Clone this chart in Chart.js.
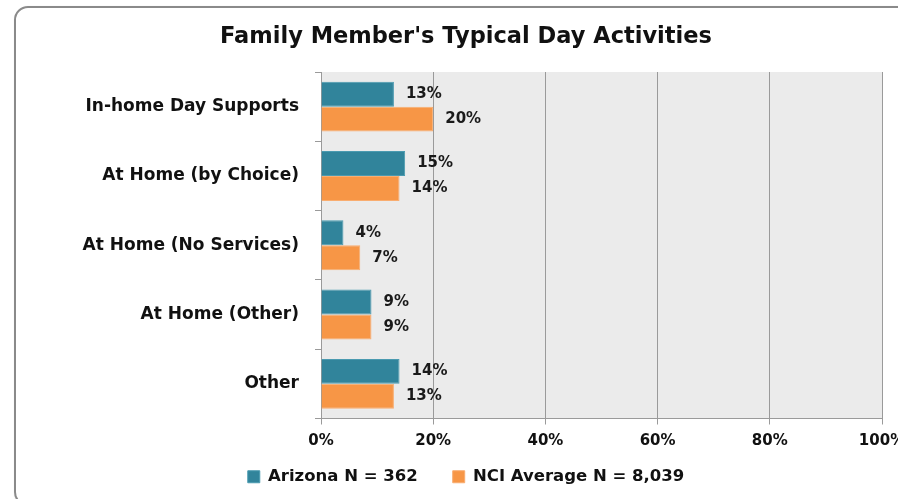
<!DOCTYPE html>
<html><head><meta charset="utf-8">
<script src="https://cdn.jsdelivr.net/npm/chart.js@4.4.0/dist/chart.umd.min.js"></script>
<style>
html,body{margin:0;padding:0;background:#fff;overflow:hidden;}
#wrap{position:relative;width:898px;height:499px;}
#frame{position:absolute;left:14px;top:6px;width:900px;height:500px;border:2px solid #8a8a8a;border-radius:14px;box-shadow:1px 1px 2px rgba(0,0,0,0.25);box-sizing:border-box;}
canvas{position:absolute;left:0;top:0;}
</style></head>
<body><div id="wrap"><div id="frame"></div><canvas id="c" width="898" height="499"></canvas></div>
<script>
const categories = ["In-home Day Supports","At Home (by Choice)","At Home (No Services)","At Home (Other)","Other"];
const arizona = [13,15,4,9,14];
const nciAverage = [20,14,7,9,13];
const seriesNames = ["Arizona N = 362","NCI Average N = 8,039"];
const xTicks = [0,20,40,60,80,100];

const FONT = "'DejaVu Sans', sans-serif";
const LEGEND_GAP = 35;

const bgPlugin = {
  id:'bg',
  beforeDraw(chart){
    const {ctx, chartArea:a} = chart;
    ctx.save();
    ctx.fillStyle = '#ebebeb';
    ctx.fillRect(a.left, a.top, a.right-a.left, a.bottom-a.top);
    ctx.restore();
  }
};
const legendShift = {
  id:'legendShift',
  afterLayout(chart){
    if (chart.legend) { chart.legend.top -= (LEGEND_GAP - 10); }
  }
};
const labelPlugin = {
  id:'vals',
  afterDatasetsDraw(chart){
    const ctx = chart.ctx;
    ctx.save();
    ctx.font = "bold 15px " + FONT;
    ctx.fillStyle = '#1a1a1a';
    ctx.textBaseline = 'middle';
    ctx.textAlign = 'left';
    chart.data.datasets.forEach((ds, i) => {
      const meta = chart.getDatasetMeta(i);
      meta.data.forEach((bar, j) => {
        ctx.fillText(ds.data[j] + '%', bar.x + 12, bar.y);
      });
    });
    ctx.restore();
  }
};

new Chart(document.getElementById('c'), {
  type:'bar',
  data:{
    labels: categories,
    datasets:[
      {label: seriesNames[0], data: arizona, backgroundColor:'#31849b', borderColor:'#4a9ab0', borderWidth:1, categoryPercentage:0.72, barPercentage:1},
      {label: seriesNames[1], data: nciAverage, backgroundColor:'#f79646', borderColor:'#f9ad70', borderWidth:1, categoryPercentage:0.72, barPercentage:1}
    ]
  },
  options:{
    indexAxis:'y',
    responsive:false,
    animation:false,
    layout:{padding:{left:50,right:16,top:4,bottom:4}},
    plugins:{
      title:{display:true, text:"Family Member's Typical Day Activities", color:'#111', font:{family:FONT, size:22.5, weight:'bold'}, padding:{top:20, bottom:21}},
      legend:{position:'bottom', maxHeight:36.5, labels:{color:'#111', boxWidth:12, boxHeight:12, font:{family:FONT, size:16.5, weight:'bold'}, padding:LEGEND_GAP}},
      tooltip:{enabled:false}
    },
    scales:{
      x:{
        min:0, max:100,
        afterBuildTicks(s){ s.ticks = xTicks.map(v=>({value:v})); },
        afterFit(s){ s.paddingLeft = 0; s.paddingRight = 0; },
        ticks:{color:'#111', font:{family:FONT, size:15, weight:'bold'}, callback:v=>v+'%', padding:8},
        grid:{color:'#9a9a9a', lineWidth:1, tickLength:6, drawTicks:true},
        border:{color:'#9a9a9a'}
      },
      y:{
        afterFit(s){ s.width = 271; },
        ticks:{color:'#111', font:{family:FONT, size:17, weight:'bold'}, padding:16},
        grid:{drawOnChartArea:false, offset:true, color:'#9a9a9a', tickLength:6},
        border:{color:'#9a9a9a'}
      }
    }
  },
  plugins:[bgPlugin, legendShift, labelPlugin]
});
</script></body></html>
